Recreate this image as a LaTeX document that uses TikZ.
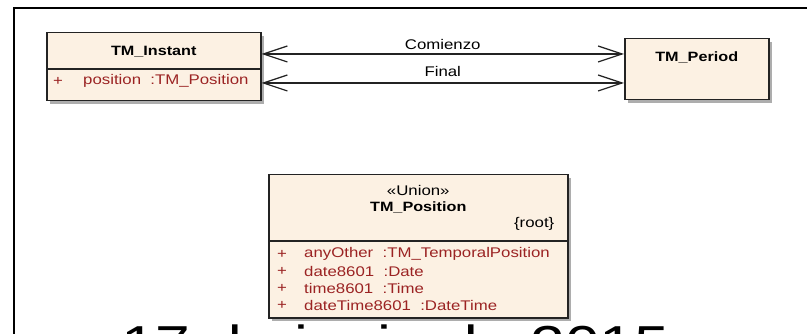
\documentclass[tikz,border=0pt]{standalone}
\usepackage{fontspec}
\setmainfont[FakeStretch=1.2]{Liberation Sans}
\usetikzlibrary{arrows.meta,positioning,shadows}

\definecolor{umlfill}{RGB}{252,241,227}
\definecolor{umlattr}{RGB}{155,35,35}
\definecolor{umlline}{RGB}{35,35,35}

\tikzset{
  classbox/.style={draw=umlline, line width=1.5pt, fill=umlfill, inner sep=0pt, anchor=north west,
    drop shadow={shadow xshift=3.5pt, shadow yshift=-3.5pt, fill=black!32, opacity=1}},
  classname/.style={font=\fontsize{13.5}{15}\selectfont\bfseries, inner sep=0pt},
  classnote/.style={font=\fontsize{14}{16}\selectfont, inner sep=0pt},
  attr/.style={font=\fontsize{14}{16}\selectfont, text=umlattr, inner sep=0pt, anchor=west},
  divider/.style={draw=umlline, line width=1.1pt},
  assoc/.style={draw=umlline, line width=1.2pt,
    arrows={Straight Barb[length=24pt,width=16pt,line width=1.2pt]-Straight Barb[length=24pt,width=16pt,line width=1.2pt]}},
  frameline/.style={draw=black, line width=1.5pt},
  datetext/.style={font=\fontsize{52}{58}\selectfont, inner sep=0pt, anchor=north west}
}

\begin{document}
\begin{tikzpicture}[x=1pt, y=-1pt]
  \useasboundingbox (0,0) rectangle (807,334);
  \fill[white] (0,0) rectangle (807,334);

  % slide frame
  \draw[frameline] (807,8) -- (14,8) -- (14,334);

  % TM_Instant
  \node[classbox, minimum width=214pt, minimum height=68pt] (instant) at (46,32) {};
  \node[classname] (instanttitle) at ([yshift=-20pt]instant.north) {TM\_Instant};
  \draw[divider] ([yshift=-37pt]instant.north west) -- ([yshift=-37pt]instant.north east);
  \node[attr] (instantplus) at ([xshift=7pt, yshift=-49pt]instant.north west) {+};
  \node[attr] (instantpos) at ([xshift=37pt, yshift=-49pt]instant.north west) {position~ :TM\_Position};

  % TM_Period
  \node[classbox, minimum width=144pt, minimum height=61pt] (period) at (624,38) {};
  \node[classname] (periodtitle) at ([yshift=-19pt]period.north) {TM\_Period};

  % associations
  \draw[assoc] ([yshift=-22pt]instant.north east) -- node[classnote, above=4pt] (comienzo) {Comienzo} ([yshift=-16pt]period.north west);
  \draw[assoc] ([yshift=-51pt]instant.north east) -- node[classnote, above=6pt] (final) {Final} ([yshift=-45pt]period.north west);

  % TM_Position
  \node[classbox, minimum width=299pt, minimum height=143pt] (position) at (268,174) {};
  \node[classnote] (positionstereo) at ([yshift=-16pt]position.north) {«Union»};
  \node[classname] (positiontitle) at ([yshift=-33pt]position.north) {TM\_Position};
  \node[classnote, anchor=east] (positionroot) at ([xshift=-14pt, yshift=-50pt]position.north east) {\{root\}};
  \draw[divider] ([yshift=-67pt]position.north west) -- ([yshift=-67pt]position.north east);
  \foreach \attrtext [count=\i] in {anyOther~ :TM\_TemporalPosition, date8601~ :Date, time8601~ :Time, dateTime8601~ :DateTime}{
    \node[attr] (positionplus\i) at ([xshift=9pt, yshift={-62.7pt-17.3pt*\i}]position.north west) {+};
    \node[attr] (positionattr\i) at ([xshift=36pt, yshift={-62.7pt-17.3pt*\i}]position.north west) {\attrtext};
  }

  % date footer
  \node[datetext] (date) at (121,325) {17 de junio de 2015};
\end{tikzpicture}
\end{document}
